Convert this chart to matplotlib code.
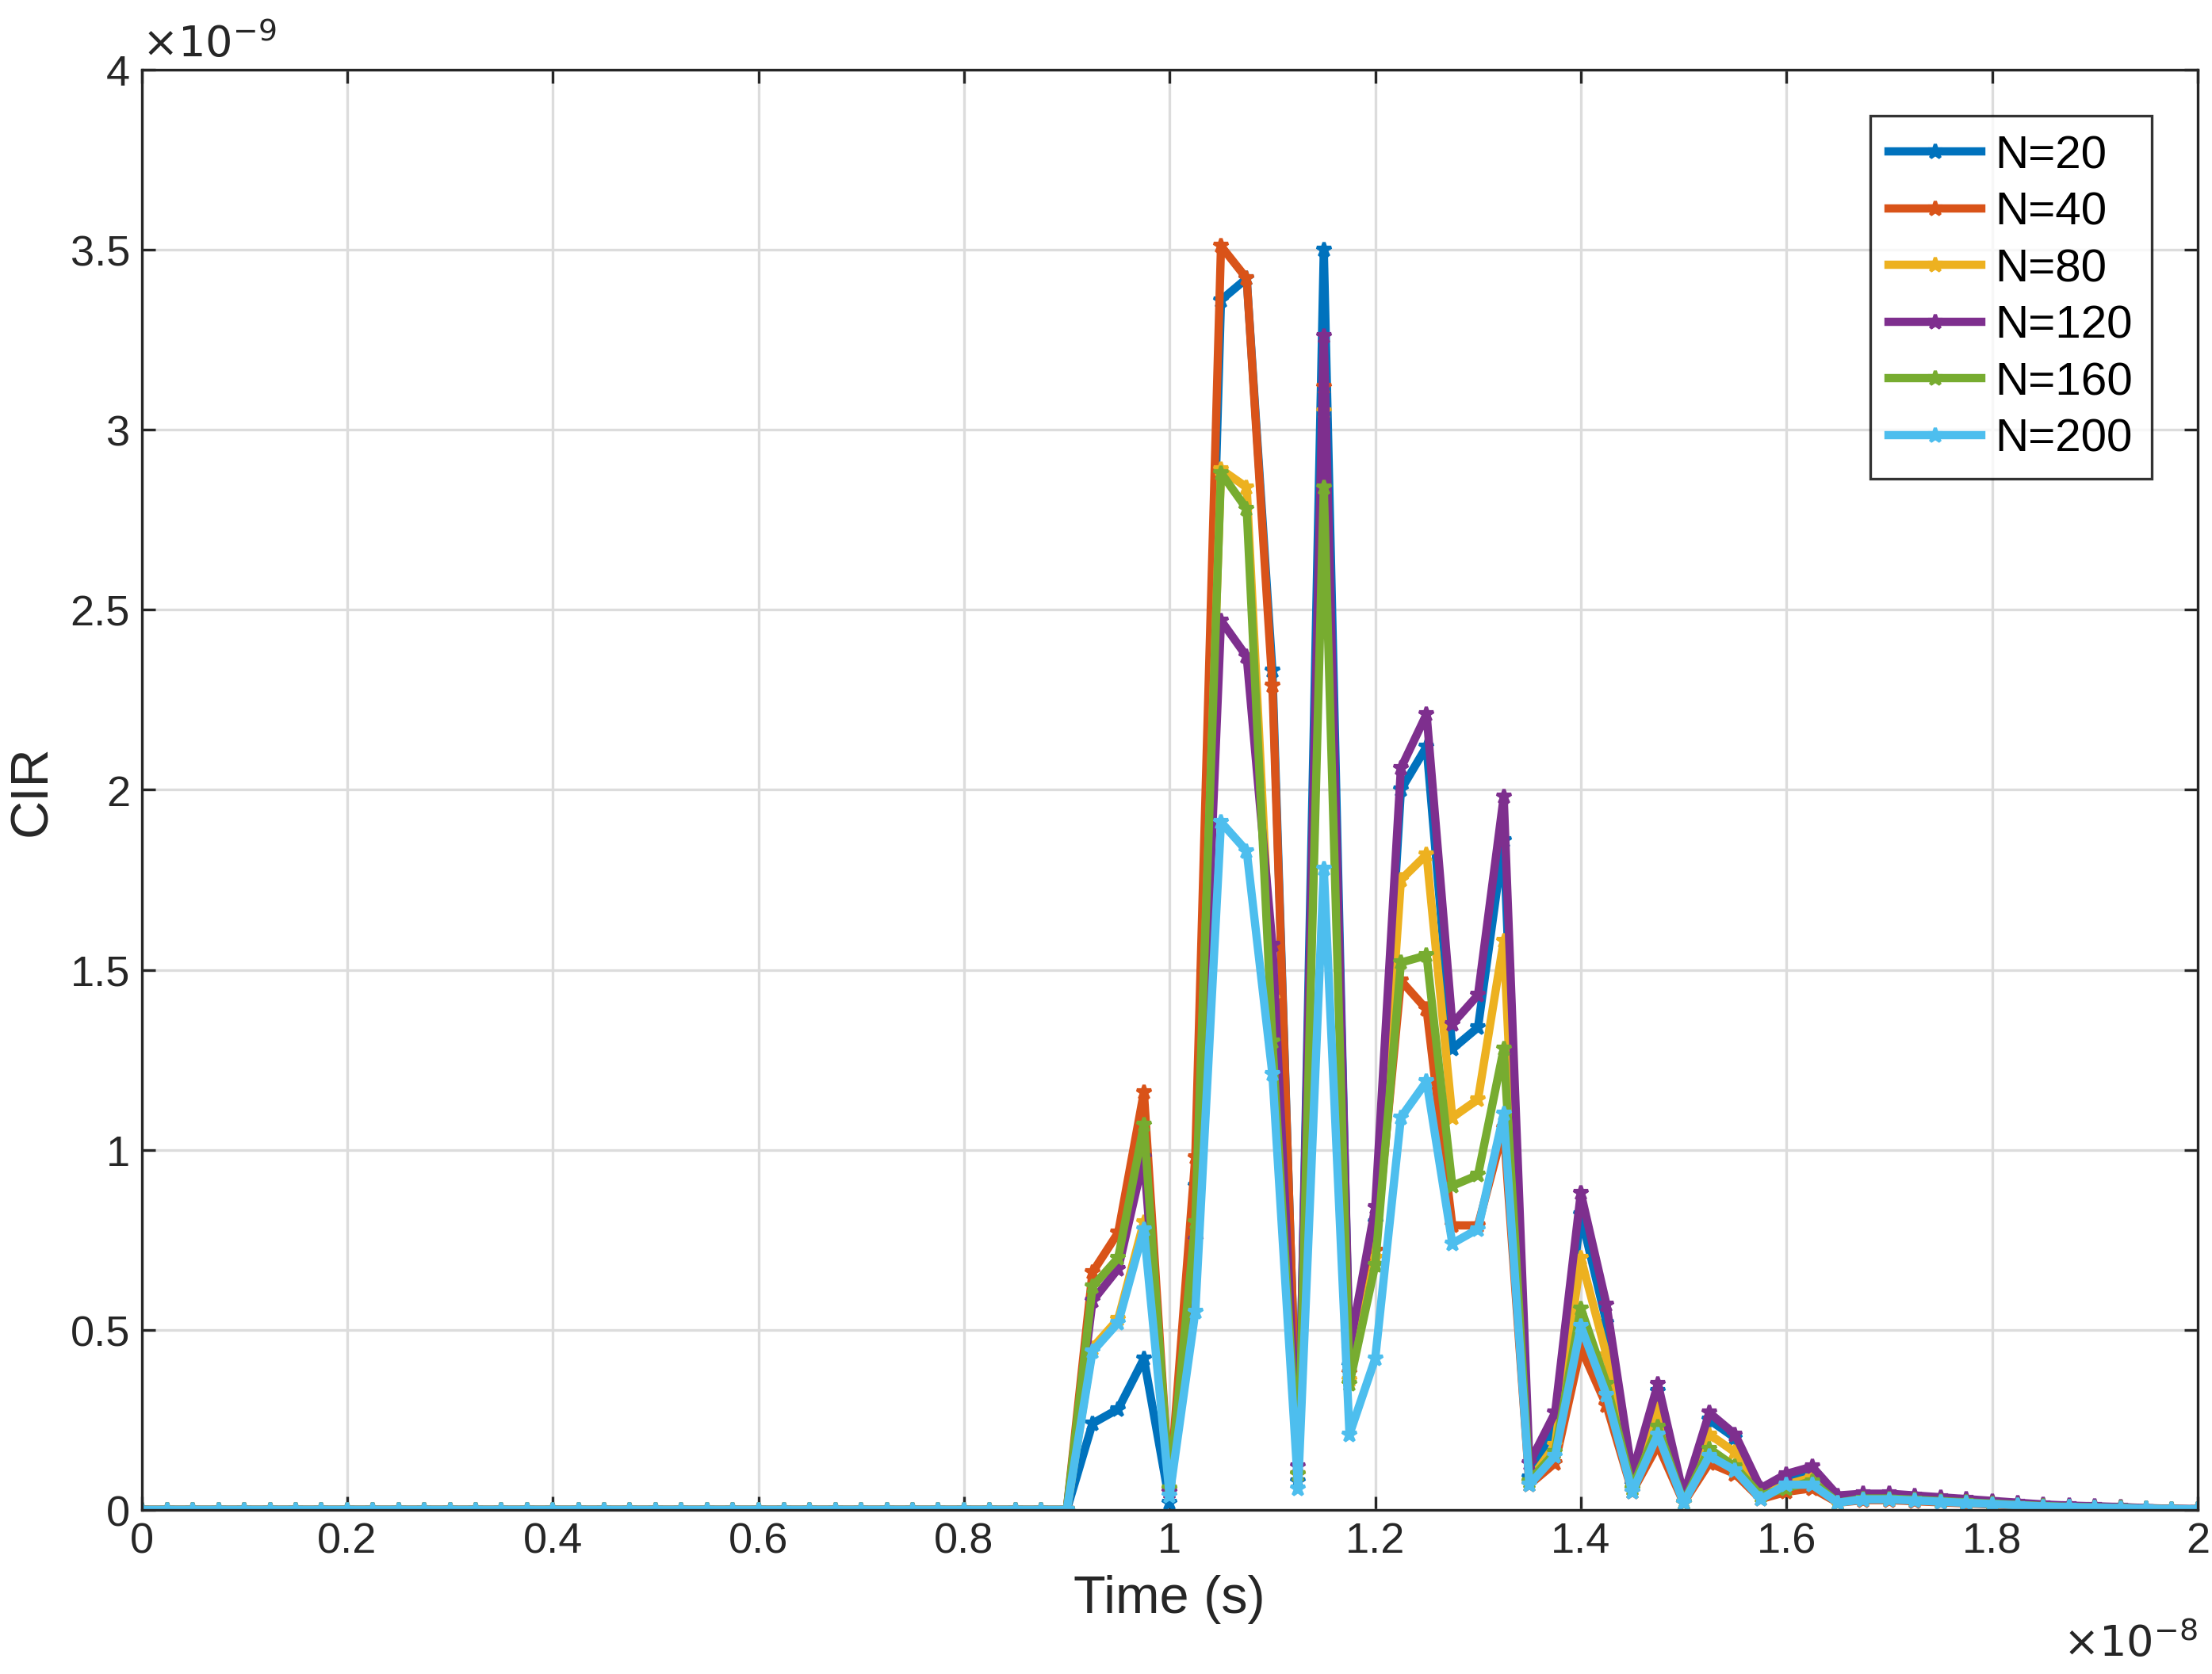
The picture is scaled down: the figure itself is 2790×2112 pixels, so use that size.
import matplotlib.pyplot as plt
from matplotlib.ticker import FuncFormatter
import numpy as np

# time axis, units of 1e-8 s, step 0.025
time = np.arange(81) * 0.025

# nonzero CIR values (units of 1e-9) starting at t = 0.925 (index 37)
tail_scale = [0.045, 0.045, 0.04, 0.035, 0.03, 0.025, 0.02, 0.015, 0.012, 0.01, 0.008, 0.005, 0.003, 0.002]

n20 = [0.24, 0.28, 0.42, 0.02, 0.90, 3.36, 3.42, 2.33, 0.08, 3.50, 0.40, 0.80, 2.00, 2.12, 1.28, 1.34, 1.86,
       0.09, 0.24, 0.82, 0.52, 0.07, 0.33, 0.02, 0.25, 0.20, 0.05, 0.08, 0.10, 0.03]
n40 = [0.66, 0.77, 1.16, 0.05, 0.98, 3.51, 3.42, 2.29, 0.10, 3.12, 0.38, 0.72, 1.47, 1.39, 0.79, 0.79, 1.06,
       0.07, 0.13, 0.45, 0.29, 0.05, 0.18, 0.02, 0.13, 0.10, 0.03, 0.05, 0.06, 0.02]
n80 = [0.45, 0.53, 0.80, 0.06, 0.75, 2.89, 2.84, 1.42, 0.10, 3.05, 0.36, 0.70, 1.75, 1.82, 1.09, 1.14, 1.58,
       0.08, 0.18, 0.70, 0.43, 0.06, 0.28, 0.02, 0.21, 0.16, 0.04, 0.07, 0.09, 0.03]
n120 = [0.58, 0.67, 0.98, 0.05, 0.75, 2.47, 2.37, 1.57, 0.12, 3.26, 0.45, 0.84, 2.06, 2.21, 1.35, 1.43, 1.98,
        0.13, 0.27, 0.88, 0.57, 0.10, 0.35, 0.04, 0.27, 0.21, 0.06, 0.10, 0.12, 0.04]
n160 = [0.62, 0.70, 1.07, 0.06, 0.80, 2.88, 2.78, 1.30, 0.10, 2.84, 0.35, 0.68, 1.52, 1.54, 0.90, 0.93, 1.28,
        0.08, 0.16, 0.56, 0.35, 0.06, 0.23, 0.02, 0.17, 0.12, 0.04, 0.06, 0.08, 0.02]
n200 = [0.44, 0.52, 0.78, 0.04, 0.55, 1.91, 1.83, 1.21, 0.06, 1.78, 0.21, 0.42, 1.09, 1.19, 0.74, 0.78, 1.10,
        0.07, 0.15, 0.51, 0.32, 0.05, 0.21, 0.02, 0.15, 0.11, 0.03, 0.07, 0.07, 0.02]
tail_factor = {20: 0.9, 40: 0.6, 80: 0.8, 120: 1.0, 160: 0.7, 200: 0.65}

labels = ['N=20', 'N=40', 'N=80', 'N=120', 'N=160', 'N=200']
colors = ['#0072BD', '#D95319', '#EDB120', '#7E2F8E', '#77AC30', '#4DBEEE']
series = [n20, n40, n80, n120, n160, n200]
ns = [20, 40, 80, 120, 160, 200]

plt.rcParams['font.family'] = ['Liberation Sans', 'DejaVu Sans']
fig = plt.figure(figsize=(9.3, 7.043), dpi=300)
ax = fig.add_axes([0.064, 0.098, 0.9295, 0.86])

for vals, n, lab, c in zip(series, ns, labels, colors):
    tail = [v * tail_factor[n] for v in tail_scale]
    y = np.zeros(len(time))
    full = vals + tail
    y[37:37 + len(full)] = full
    ax.plot(time, y, color=c, lw=2.5, marker='*', ms=4.5, label=lab)

ax.set_xlim(0, 2)
ax.set_ylim(0, 4)
ax.set_xticks(np.arange(0, 2.01, 0.2))
ax.set_yticks(np.arange(0, 4.01, 0.5))
fmt = FuncFormatter(lambda v, p: '%g' % round(v, 2))
ax.xaxis.set_major_formatter(fmt)
ax.yaxis.set_major_formatter(fmt)
ax.grid(True, color='#dcdcdc', lw=0.8)
ax.set_axisbelow(True)
ax.tick_params(direction='in', top=True, right=True, labelsize=13, colors='#262626', length=4)
for s in ax.spines.values():
    s.set_color('#262626')
    s.set_linewidth(0.8)
ax.set_xlabel('Time (s)', fontsize=16, color='#262626', labelpad=4)
ax.set_ylabel('CIR', fontsize=16, color='#262626')
ax.text(0.0, 1.003, r'$\times10^{-9}$', transform=ax.transAxes, fontsize=13, color='#262626', va='bottom')
ax.text(1.0, -0.078, r'$\times10^{-8}$', transform=ax.transAxes, fontsize=13, color='#262626', ha='right', va='top')
leg = ax.legend(loc='upper right', fontsize=14, fancybox=False, edgecolor='black',
                handlelength=2.0, borderaxespad=1.0, labelspacing=0.3, handletextpad=0.3,
                borderpad=0.4)
leg.get_frame().set_linewidth(0.8)
fig.savefig('out.png', dpi=300)
